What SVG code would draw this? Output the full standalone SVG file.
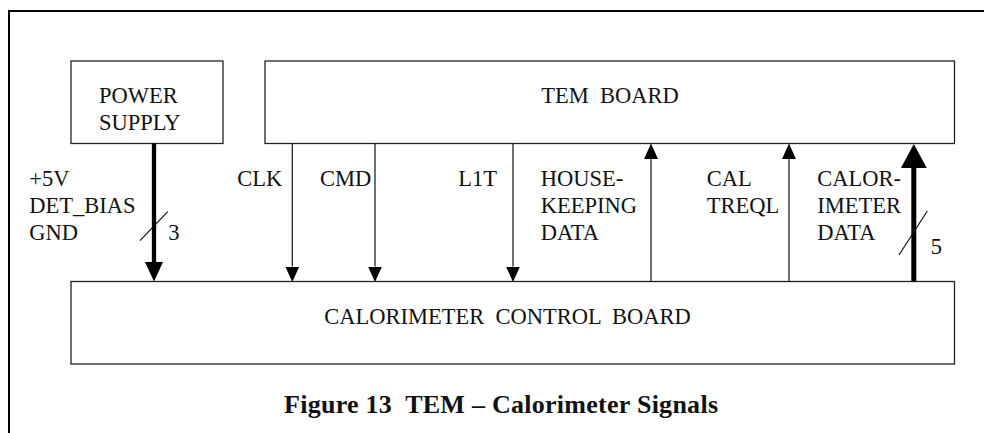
<svg xmlns="http://www.w3.org/2000/svg" width="984" height="433" viewBox="0 0 984 433">
<style>
.t{font-family:'Liberation Serif','Times New Roman',Times,serif;font-size:22.5px;fill:#111;white-space:pre}
.c{text-anchor:middle}
.cap{font-family:'Liberation Serif','Times New Roman',Times,serif;font-size:26px;font-weight:bold;fill:#111;white-space:pre}
.box{fill:#fff;stroke:#222;stroke-width:1.3}
.thin{stroke:#111;stroke-width:1.2;fill:none}
.thick{stroke:#000;fill:none}
</style>
<defs>
<marker id="ah" markerUnits="userSpaceOnUse" markerWidth="16" markerHeight="15" refX="0" refY="7" orient="auto" viewBox="0 0 16 14">
<path d="M0,0 L15.5,7 L0,14 z" fill="#000"/>
</marker>
<marker id="ahp" markerUnits="userSpaceOnUse" markerWidth="20" markerHeight="19" refX="0" refY="9" orient="auto" viewBox="0 0 20 18">
<path d="M0,0 L19.5,9 L0,18 z" fill="#000"/>
</marker>
<marker id="ahc" markerUnits="userSpaceOnUse" markerWidth="25" markerHeight="26" refX="0" refY="13" orient="auto" viewBox="0 0 25 26">
<path d="M0,0 L24,13 L0,26 z" fill="#000"/>
</marker>
</defs>
<path d="M9,433 V11 H984" fill="none" stroke="#000" stroke-width="2"/>
<g id="power-supply">
<rect class="box" x="71" y="61" width="152" height="82.5"/>
<text class="t" x="99" y="102.5">POWER</text>
<text class="t" x="99" y="129.5">SUPPLY</text>
</g>
<g id="tem-board">
<rect class="box" x="265" y="61" width="689.5" height="82.5"/>
<text class="t c" x="610" y="102.5">TEM  BOARD</text>
</g>
<g id="cal-control-board">
<rect class="box" x="71" y="281.5" width="883.5" height="82.5"/>
<text class="t c" x="507.5" y="324">CALORIMETER  CONTROL  BOARD</text>
</g>
<g id="connectors">
<line class="thick" x1="154" y1="143.5" x2="154" y2="262" stroke-width="4.3" marker-end="url(#ahp)"/>
<line class="thin" x1="140" y1="240.7" x2="167.7" y2="211.7"/>
<line class="thin" x1="292.3" y1="143.5" x2="292.3" y2="266.5" marker-end="url(#ah)"/>
<line class="thin" x1="375" y1="143.5" x2="375" y2="266.5" marker-end="url(#ah)"/>
<line class="thin" x1="513" y1="143.5" x2="513" y2="266.5" marker-end="url(#ah)"/>
<line class="thin" x1="651" y1="281.5" x2="651" y2="159" marker-end="url(#ah)"/>
<line class="thin" x1="789" y1="281.5" x2="789" y2="159" marker-end="url(#ah)"/>
<line class="thick" x1="913.8" y1="281.5" x2="913.8" y2="168" stroke-width="5" marker-end="url(#ahc)"/>
<line class="thin" x1="899" y1="255" x2="927.3" y2="211"/>
</g>
<g id="labels">
<text class="t" x="29.3" y="185.5">+5V</text>
<text class="t" x="29.3" y="212.5">DET_BIAS</text>
<text class="t" x="29.3" y="239.5">GND</text>
<text class="t" x="168.3" y="240">3</text>
<text class="t" x="237.3" y="185.5">CLK</text>
<text class="t" x="320" y="185.5">CMD</text>
<text class="t" x="458.3" y="185.5">L1T</text>
<text class="t" x="540.7" y="185.5">HOUSE-</text>
<text class="t" x="540.7" y="212.5">KEEPING</text>
<text class="t" x="540.7" y="239.5">DATA</text>
<text class="t" x="706.7" y="185.5">CAL</text>
<text class="t" x="706.7" y="212.5">TREQL</text>
<text class="t" x="817.3" y="185.5">CALOR-</text>
<text class="t" x="817.3" y="212.5">IMETER</text>
<text class="t" x="817.3" y="239.5">DATA</text>
<text class="t" x="930.7" y="253.5">5</text>
</g>
<text class="cap" x="284" y="413" textLength="434" lengthAdjust="spacing">Figure 13  TEM – Calorimeter Signals</text>
</svg>
